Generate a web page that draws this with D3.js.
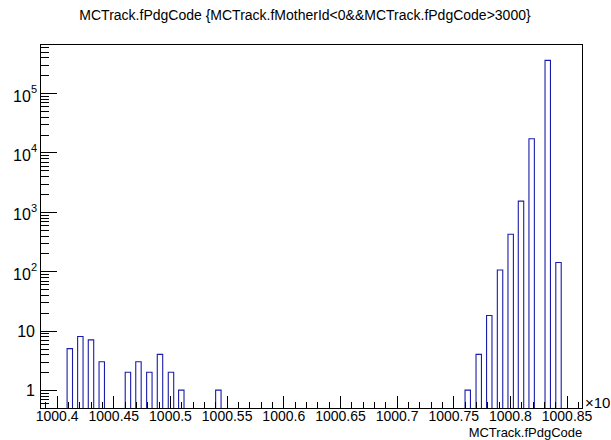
<!DOCTYPE html>
<html>
<head>
<meta charset="utf-8">
<script src="https://cdn.jsdelivr.net/npm/d3@7"></script>
<style>
  body { margin: 0; background: #fff; }
  svg { display: block; font-family: "Liberation Sans", Arial, Helvetica, sans-serif; }
</style>
</head>
<body>
<svg id="hist"></svg>
<script>
// histogram contents (x in units of 10^6)
const pdgValues = [1000.4116, 1000.4209, 1000.4303, 1000.4398, 1000.4629, 1000.4722, 1000.4818,
                   1000.4912, 1000.5009, 1000.5100, 1000.5427,
                   1000.7628, 1000.7725, 1000.7818, 1000.7913, 1000.8007, 1000.8098, 1000.8192,
                   1000.8334, 1000.8429];
const entries = [5, 8, 7, 3, 2, 3, 2, 4, 2, 1, 1,
                 1, 4, 18, 105, 420, 1520, 17000, 355000, 141];
const xRange = [1000.3853, 1000.8639];
const nBins = 100;
const yRange = [0.5, 6.7e5];
const xMajorTicks = [1000.4, 1000.45, 1000.5, 1000.55, 1000.6, 1000.65, 1000.7, 1000.75, 1000.8, 1000.85];
const yMajorTicks = [1, 10, 100, 1000, 10000, 100000];

const title = "MCTrack.fPdgCode {MCTrack.fMotherId<0&&MCTrack.fPdgCode>3000}";
const xTitle = "MCTrack.fPdgCode";

const width = 611, height = 440;
const frame = { left: 40, right: 582.3, top: 44, bottom: 408 };
const lineColor = "#1c1caa";

const svg = d3.select("#hist").attr("width", width).attr("height", height);

const x = d3.scaleLinear().domain(xRange).range([frame.left, frame.right]);
const y = d3.scaleLog().domain(yRange).range([frame.bottom, frame.top]);
const binWidth = (xRange[1] - xRange[0]) / nBins;

const bins = pdgValues.map((v, i) => ({ x0: v - binWidth / 2, x1: v + binWidth / 2, n: entries[i] }));

// bars (outline only, like the ROOT histogram line)
svg.append("g")
   .selectAll("path")
   .data(bins)
   .enter()
   .append("path")
   .attr("d", d => `M${x(d.x0)},${y(yRange[0])}V${y(d.n)}H${x(d.x1)}V${y(yRange[0])}`)
   .attr("fill", "none")
   .attr("stroke", lineColor)
   .attr("stroke-width", 1.1);

// x axis: minor every 0.01, major every 0.05
const xMinor = d3.range(1000.39, 1000.865, 0.01)
                 .map(v => +v.toFixed(2))
                 .filter(v => !xMajorTicks.some(m => Math.abs(m - v) < 1e-6));

svg.append("g")
   .attr("transform", `translate(0,${frame.bottom})`)
   .call(d3.axisBottom(x).tickValues(xMinor).tickSize(-6).tickSizeOuter(0).tickFormat(""))
   .call(g => g.select(".domain").remove());

const xAxis = svg.append("g")
   .attr("transform", `translate(0,${frame.bottom})`)
   .call(d3.axisBottom(x).tickValues(xMajorTicks).tickSize(-12).tickSizeOuter(0)
           .tickPadding(3).tickFormat(d3.format(".2~f")))
   .call(g => g.select(".domain").remove());
xAxis.selectAll("text").attr("fill", "#000").style("font-size", "14px");

// y axis: log, minor ticks at 2..9
const yMinor = y.ticks().filter(v => !yMajorTicks.includes(v));

svg.append("g")
   .attr("transform", `translate(${frame.left},0)`)
   .call(d3.axisLeft(y).tickValues(yMinor).tickSize(-9).tickSizeOuter(0).tickFormat(""))
   .call(g => g.select(".domain").remove());

svg.append("g")
   .attr("transform", `translate(${frame.left},0)`)
   .call(d3.axisLeft(y).tickValues(yMajorTicks).tickSize(-17).tickSizeOuter(0).tickFormat(""))
   .call(g => g.select(".domain").remove());

svg.selectAll(".tick line").attr("stroke", "#000").attr("shape-rendering", "crispEdges");

// y labels: 1, 10, then 10^n
const yLabels = svg.append("g").attr("fill", "#000").style("font-size", "16px");
yMajorTicks.forEach(v => {
    const p = Math.round(Math.log10(v));
    if (p < 2) {
        yLabels.append("text")
               .attr("x", 35)
               .attr("y", y(v) + 6)
               .attr("text-anchor", "end")
               .text(String(v));
    } else {
        const t = yLabels.append("text")
               .attr("x", 37)
               .attr("y", y(v) + 8.5)
               .attr("text-anchor", "end");
        t.append("tspan").text("10");
        t.append("tspan").attr("dy", -8.5).style("font-size", "11px").text(String(p));
    }
});

// frame
svg.append("rect")
   .attr("x", frame.left)
   .attr("y", frame.top)
   .attr("width", frame.right - frame.left)
   .attr("height", frame.bottom - frame.top)
   .attr("fill", "none")
   .attr("stroke", "#000")
   .attr("shape-rendering", "crispEdges");

// axis exponent, cut by the canvas edge as in the picture
svg.append("text")
   .attr("x", 585)
   .attr("y", 408)
   .style("font-size", "15px")
   .text("×10");

// axis title
svg.append("text")
   .attr("x", frame.right)
   .attr("y", 437)
   .attr("text-anchor", "end")
   .style("font-size", "13px")
   .text(xTitle);

// histogram title
svg.append("text")
   .attr("x", 305)
   .attr("y", 20)
   .attr("text-anchor", "middle")
   .style("font-size", "14px")
   .text(title);
</script>
</body>
</html>
